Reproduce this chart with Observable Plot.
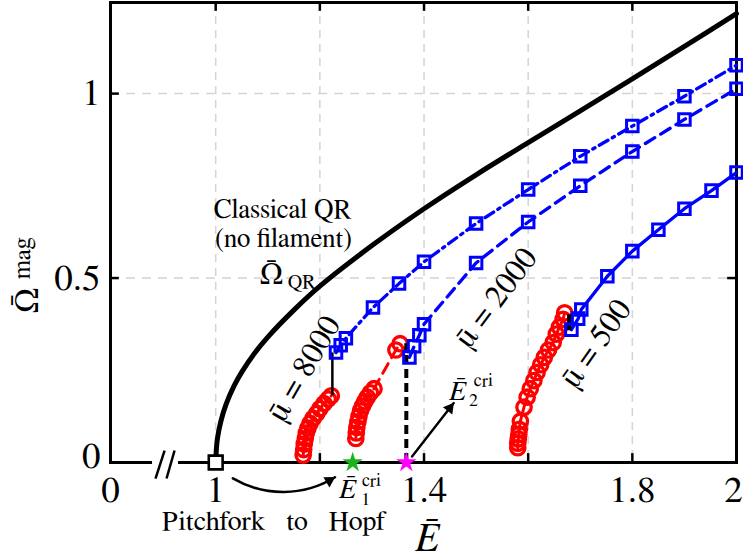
<!DOCTYPE html>
<html><head><meta charset="utf-8">
<script src="https://cdn.jsdelivr.net/npm/d3@7"></script>
<script src="https://cdn.jsdelivr.net/npm/@observablehq/plot@0.6"></script>
<style>body{margin:0;background:#fff}</style>
</head><body><div id="chart"></div>
<script>
// ---------- data ----------
// Classical QR (no filament)
const qrE = [1.0, 1.003, 1.01, 1.02, 1.035, 1.05, 1.075, 1.1, 1.15, 1.2, 1.3, 1.4, 1.5, 1.6, 1.7, 1.8, 1.9, 2.0];
const qrW = [0, 0.062, 0.112, 0.158, 0.207, 0.245, 0.297, 0.34, 0.413, 0.478, 0.588, 0.688, 0.78, 0.867, 0.953, 1.04, 1.128, 1.217];

// mu = 8000
const blue8000E = [1.231, 1.240, 1.250, 1.302, 1.352, 1.40, 1.50, 1.60, 1.70, 1.80, 1.90, 2.00];
const blue8000W = [0.298, 0.318, 0.337, 0.42, 0.485, 0.544, 0.648, 0.74, 0.83, 0.912, 0.993, 1.077];
const red8000E = [1.168, 1.169, 1.170, 1.172, 1.174, 1.177, 1.181, 1.187, 1.194, 1.200, 1.208, 1.216, 1.222];
const red8000W = [0.02, 0.035, 0.05, 0.065, 0.08, 0.093, 0.106, 0.12, 0.133, 0.146, 0.16, 0.172, 0.181];

// mu = 2000
const blue2000E = [1.372, 1.381, 1.391, 1.40, 1.50, 1.60, 1.70, 1.80, 1.90, 2.00];
const blue2000W = [0.285, 0.315, 0.345, 0.375, 0.541, 0.652, 0.75, 0.843, 0.93, 1.013];
const red2000E = [1.269, 1.270, 1.271, 1.273, 1.275, 1.278, 1.282, 1.286, 1.291, 1.297, 1.304, 1.346, 1.354];
const red2000W = [0.065, 0.08, 0.095, 0.11, 0.125, 0.14, 0.153, 0.165, 0.177, 0.189, 0.20, 0.305, 0.322];

// mu = 500
const blue500E = [1.683, 1.696, 1.702, 1.752, 1.80, 1.85, 1.90, 1.952, 2.00];
const blue500W = [0.36, 0.39, 0.415, 0.505, 0.573, 0.631, 0.688, 0.737, 0.786];
const red500E = [1.580, 1.580, 1.581, 1.582, 1.583, 1.585, 1.592, 1.598, 1.604, 1.611, 1.617, 1.624, 1.631, 1.639, 1.648, 1.654, 1.660, 1.667, 1.670];
const red500W = [0.04, 0.052, 0.064, 0.076, 0.09, 0.112, 0.15, 0.177, 0.20, 0.222, 0.244, 0.265, 0.285, 0.305, 0.325, 0.348, 0.367, 0.388, 0.406];

// jumps (red -> blue) for mu = 8000, 2000, 500
const jumpE  = [1.224, 1.366, 1.679];
const jumpLo = [0.181, 0.0, 0.357];
const jumpHi = [0.297, 0.322, 0.40];

// critical points
const critE = [1.263, 1.366];
const critColor = ["#1cb41c", "#ff00ff"];

// ticks
const xTickVals = [0.798, 1, 1.4, 1.8, 2];
const xTickText = ["0", "1", "1.4", "1.8", "2"];
const yTickVals = [0, 0.5, 1];
const yTickText = ["0", "0.5", "1"];
const gridX = [1, 1.2, 1.4, 1.6, 1.8];
const gridY = [0.5, 1];

// annotations
const breakE = [0.8787, 0.9286];
const slashE1 = [0.8844, 0.9056];
const slashE2 = [0.9018, 0.921];
const pfArrow = [{x1: 1.033, y1: -0.043, x2: 1.229, y2: -0.040}];
const e2Arrow = [{x1: 1.377, y1: 0.016, x2: 1.457, y2: 0.161}];

// ---------- build ----------
const rows = (E, W) => E.map((e, i) => ({E: e, W: W[i]}));
const qr = rows(qrE, qrW);
const b8000 = rows(blue8000E, blue8000W), r8000 = rows(red8000E, red8000W);
const b2000 = rows(blue2000E, blue2000W), r2000 = rows(red2000E, red2000W);
const b500 = rows(blue500E, blue500W), r500 = rows(red500E, red500W);
const jumps = jumpE.map((e, i) => ({E: e, lo: jumpLo[i], hi: jumpHi[i]}));
const crit = critE.map((e, i) => ({E: e, W: 0, c: critColor[i]}));
const slashes = slashE1.map((e, i) => ({x1: e, x2: slashE2[i], y1: -0.0434, y2: 0.0325}));
const serif = "FreeSerif";
const BLUE = "#0000ff", RED = "#ff0000";

const xMin = 0.798, xMax = 2, yMax = 1.247;
const tkx = 0.017, tky = 0.024;
const T = (x, y, t) => [{x, y, t}];
const txt = (data, o) => Plot.text(data, {x: "x", y: "y", text: "t", fill: "black", fontFamily: serif, ...o});
const fmtX = d => xTickText[xTickVals.indexOf(d)];
const fmtY = d => yTickText[yTickVals.indexOf(d)];

const plot = Plot.plot({
  width: 743, height: 559,
  marginLeft: 110, marginRight: 7, marginTop: 2, marginBottom: 97,
  x: {domain: [xMin, xMax]},
  y: {domain: [0, yMax]},
  style: {background: "white", fontFamily: serif},
  marks: [
    Plot.ruleX(gridX, {stroke: "#d4d4d4", strokeWidth: 1.5, strokeDasharray: "8,6"}),
    Plot.ruleY(gridY, {stroke: "#d4d4d4", strokeWidth: 1.5, strokeDasharray: "9,7"}),
    Plot.frame({stroke: "black", strokeWidth: 3}),
    // inward ticks
    Plot.ruleX(gridX, {y1: 0, y2: tky, stroke: "black", strokeWidth: 2.5}),
    Plot.ruleX(gridX, {y1: yMax, y2: yMax - tky, stroke: "black", strokeWidth: 2.5}),
    Plot.ruleY(gridY, {x1: xMin, x2: xMin + tkx, stroke: "black", strokeWidth: 2.5}),
    Plot.ruleY(gridY, {x1: xMax, x2: xMax - tkx, stroke: "black", strokeWidth: 2.5}),
    // axis break
    Plot.rect([{a: breakE[0], b: breakE[1]}], {x1: "a", x2: "b", y1: () => -0.012, y2: () => 0.012, fill: "white"}),
    Plot.link(slashes, {x1: "x1", y1: "y1", x2: "x2", y2: "y2", stroke: "black", strokeWidth: 2.5}),
    // tick labels
    Plot.axisX(xTickVals.slice(0, 4), {anchor: "bottom", tickSize: 0, tickPadding: 13, fontSize: 37, fontFamily: serif, label: null, tickFormat: fmtX}),
    Plot.axisX(xTickVals.slice(4), {anchor: "bottom", tickSize: 0, tickPadding: 13, fontSize: 37, fontFamily: serif, label: null, dx: -3, tickFormat: fmtX}),
    Plot.axisY(yTickVals.slice(1), {anchor: "left", tickSize: 0, tickPadding: 10, fontSize: 37, fontFamily: serif, label: null, tickFormat: fmtY}),
    Plot.axisY(yTickVals.slice(0, 1), {anchor: "left", tickSize: 0, tickPadding: 10, fontSize: 37, fontFamily: serif, label: null, dy: -6, tickFormat: fmtY}),
    // classical QR
    Plot.line(qr, {x: "E", y: "W", stroke: "black", strokeWidth: 5, curve: "catmull-rom"}),
    // blue branches
    Plot.line(b8000, {x: "E", y: "W", stroke: BLUE, strokeWidth: 3.3, strokeDasharray: "10,5,2.5,5"}),
    Plot.line(b2000, {x: "E", y: "W", stroke: BLUE, strokeWidth: 3.3, strokeDasharray: "11,7"}),
    Plot.line(b500, {x: "E", y: "W", stroke: BLUE, strokeWidth: 3.3}),
    // red branches
    Plot.line(r8000, {x: "E", y: "W", stroke: RED, strokeWidth: 3, strokeDasharray: "10,5,2.5,5"}),
    Plot.line(r2000, {x: "E", y: "W", stroke: RED, strokeWidth: 3, strokeDasharray: "11,7"}),
    Plot.line(r500, {x: "E", y: "W", stroke: RED, strokeWidth: 3}),
    Plot.dot(r8000, {x: "E", y: "W", r: 7.2, stroke: RED, strokeWidth: 3.3}),
    Plot.dot(r2000, {x: "E", y: "W", r: 7.2, stroke: RED, strokeWidth: 3.3}),
    Plot.dot(r500, {x: "E", y: "W", r: 7.2, stroke: RED, strokeWidth: 3.3}),
    // jumps
    Plot.ruleX(jumps.slice(0, 1), {x: "E", y1: "lo", y2: "hi", stroke: "black", strokeWidth: 2.5}),
    Plot.ruleX(jumps.slice(1, 2), {x: "E", y1: "lo", y2: "hi", stroke: "black", strokeWidth: 4, strokeDasharray: "9,5"}),
    Plot.ruleX(jumps.slice(2, 3), {x: "E", y1: "lo", y2: "hi", stroke: "black", strokeWidth: 4.5}),
    Plot.dot(b8000, {x: "E", y: "W", symbol: "square", r: 6.5, stroke: BLUE, strokeWidth: 3}),
    Plot.dot(b2000, {x: "E", y: "W", symbol: "square", r: 6.5, stroke: BLUE, strokeWidth: 3}),
    Plot.dot(b500, {x: "E", y: "W", symbol: "square", r: 6.5, stroke: BLUE, strokeWidth: 3}),
    // pitchfork point
    Plot.dot([{E: 1, W: 0}], {x: "E", y: "W", symbol: "square", r: 7.8, stroke: "black", fill: "white", strokeWidth: 2.6}),
    // critical stars
    Plot.dot(crit, {x: "E", y: "W", symbol: "star", r: 6.4, fill: "c"}),
    // arrows (shaft + filled head)
    Plot.arrow(pfArrow, {x1: "x1", y1: "y1", x2: "x2", y2: "y2", bend: -31, headLength: 0, stroke: "black", strokeWidth: 2.6}),
    Plot.dot(pfArrow, {x: "x2", y: "y2", symbol: "triangle", r: 4.4, fill: "black", rotate: 59, dx: -5.6, dy: 3.3}),
    Plot.arrow(e2Arrow, {x1: "x1", y1: "y1", x2: "x2", y2: "y2", headLength: 0, stroke: "black", strokeWidth: 2.4}),
    Plot.dot(e2Arrow, {x: "x2", y: "y2", symbol: "triangle", r: 4.4, fill: "black", rotate: 38, dx: -4, dy: 5.1}),
    // text annotations
    txt(T(1.1283, 0.686, "Classical QR"), {fontSize: 27}),
    txt(T(1.1302, 0.607, "(no filament)"), {fontSize: 27}),
    txt(T(1.107, 0.51, "Ω\u0304"), {fontSize: 31}),
    txt(T(1.165, 0.49, "QR"), {fontSize: 20}),
    txt(T(1.1686, 0.255, "μ\u0304 = 8000"), {fontSize: 32, rotate: -60}),
    txt(T(1.5373, 0.447, "μ\u0304 = 2000"), {fontSize: 32, rotate: -53}),
    txt(T(1.7293, 0.323, "μ\u0304 = 500"), {fontSize: 32, rotate: -55}),
    // E2 cri
    txt(T(1.4643, 0.195, "Ē"), {fontSize: 28, fontStyle: "italic"}),
    txt(T(1.495, 0.169, "2"), {fontSize: 18}),
    txt(T(1.514, 0.222, "cri"), {fontSize: 18}),
    // E1 cri
    txt(T(1.253, -0.073, "Ē"), {fontSize: 28, fontStyle: "italic"}),
    txt(T(1.288, -0.099, "1"), {fontSize: 18}),
    txt(T(1.299, -0.048, "cri"), {fontSize: 18}),
    // pitchfork caption
    txt(T(1.1125, -0.158, "Pitchfork\u00A0\u00A0\u00A0to\u00A0\u00A0\u00A0Hopf"), {fontSize: 28}),
    // axis titles
    txt(T(1.406, -0.205, "Ē"), {fontSize: 40, fontStyle: "italic"}),
    Plot.text(["Ω\u0304"], {frameAnchor: "left", dx: -83, dy: 68, rotate: -90, textAnchor: "middle", text: d => d, fontSize: 34, fontFamily: serif, fill: "black"}),
    Plot.text(["mag"], {frameAnchor: "left", dx: -89, dy: 26, rotate: -90, textAnchor: "middle", text: d => d, fontSize: 25, fontFamily: serif, fill: "black"})
  ]
});
document.getElementById("chart").appendChild(plot);
</script></body></html>
